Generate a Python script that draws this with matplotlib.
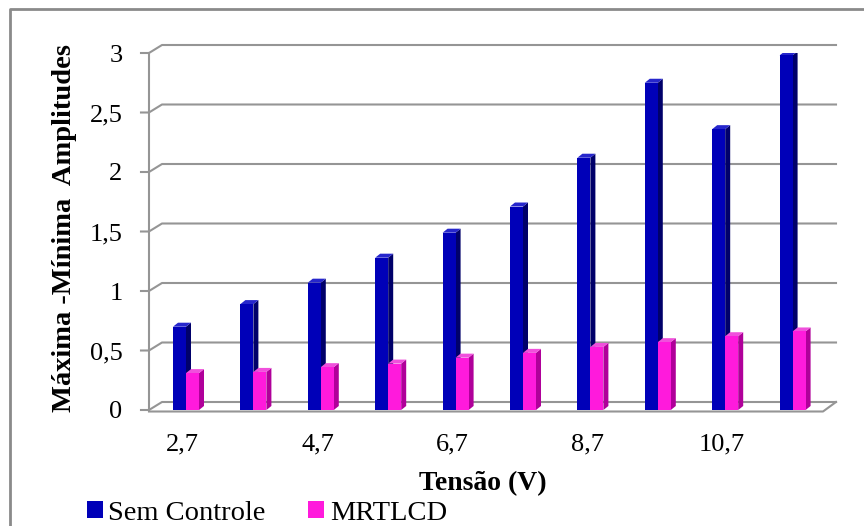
import matplotlib
matplotlib.use("Agg")
import matplotlib.pyplot as plt
from matplotlib.patches import Polygon
from matplotlib.lines import Line2D

# ---- data ----
categories = ["2,7", "3,7", "4,7", "5,7", "6,7", "7,7", "8,7", "9,7", "10,7", "11,7"]
sem_controle = [0.70, 0.89, 1.07, 1.28, 1.49, 1.71, 2.12, 2.75, 2.36, 2.98]
mrtlcd = [0.31, 0.32, 0.36, 0.39, 0.44, 0.48, 0.53, 0.57, 0.62, 0.66]
y_ticks = [0, 0.5, 1, 1.5, 2, 2.5, 3]
y_tick_labels = ["0", "0,5", "1", "1,5", "2", "2,5", "3"]
x_tick_every = 2

# ---- figure / layout (pixel based) ----
W, H = 864, 526
SERIF = ["Liberation Serif", "DejaVu Serif"]
plt.rcParams["font.family"] = SERIF
fig = plt.figure(figsize=(W / 100, H / 100), dpi=100)
fig.patch.set_facecolor("white")

x0, x1, ytop, ybot = 149, 823, 53, 410
ax = fig.add_axes([x0 / W, 1 - ybot / H, (x1 - x0) / W, (ybot - ytop) / H])
n = len(categories)
ax.set_xlim(0, n)
ax.set_ylim(0, 3)
for s in ax.spines.values():
    s.set_visible(False)

px_x = n / (x1 - x0)          # data units per pixel (horizontal)
px_y = 3.0 / (ybot - ytop)    # data units per pixel (vertical)

grid_c = "#959595"
grid_lw = 1.5
wall_dx, wall_dy = 13 * px_x, 8 * px_y

# back wall gridlines with the slanted connector from the front axis
for v in y_ticks:
    ax.add_line(Line2D([-8 * px_x, 0, wall_dx, n + wall_dx],
                       [v, v, v + wall_dy, v + wall_dy],
                       color=grid_c, lw=grid_lw, clip_on=False, zorder=1))
# front vertical axis and floor edge
ax.add_line(Line2D([0, 0], [0, 3], color=grid_c, lw=grid_lw, clip_on=False, zorder=1))
ax.add_line(Line2D([0, n, n + wall_dx], [-1.5 * px_y, -1.5 * px_y, wall_dy],
                   color=grid_c, lw=grid_lw, clip_on=False, zorder=1))

# ---- bars ----
bar_w = 13 * px_x
blue_off = -0.144
mag_off = blue_off + bar_w
centers = [i + 0.5 for i in range(n)]

blue = dict(front="#0000B8", side="#00006A", top="#2626CC")
mag = dict(front="#FF1ADC", side="#B0009A", top="#F050DC")
bdx, bdy = 5 * px_x, 4 * px_y


def add_depth(bars, colors, z):
    for p in bars.patches:
        x, w, h = p.get_x(), p.get_width(), p.get_height()
        side = Polygon([(x + w, 0), (x + w + bdx, bdy), (x + w + bdx, h + bdy), (x + w, h)],
                       closed=True, facecolor=colors["side"], edgecolor="none", zorder=z)
        top = Polygon([(x, h), (x + bdx, h + bdy), (x + w + bdx, h + bdy), (x + w, h)],
                      closed=True, facecolor=colors["top"], edgecolor="none", zorder=z)
        ax.add_patch(side)
        ax.add_patch(top)


b1 = ax.bar([c + blue_off for c in centers], sem_controle, width=bar_w, align="edge",
            color=blue["front"], edgecolor="none", zorder=3, label="Sem Controle")
add_depth(b1, blue, 2.9)
b2 = ax.bar([c + mag_off for c in centers], mrtlcd, width=bar_w, align="edge",
            color=mag["front"], edgecolor="none", zorder=5, label="MRTLCD")
add_depth(b2, mag, 4.9)

# ---- ticks ----
fs = 19
ax.set_yticks(y_ticks, y_tick_labels, fontsize=fs)
ax.set_xticks(centers[::x_tick_every], categories[::x_tick_every], fontsize=fs)
ax.tick_params(axis="y", length=0, pad=19)
ax.tick_params(axis="x", length=0, pad=17)

# ---- axis titles ----
fig.text(65 / W, 1 - 228 / H, "Máxima -Mínima  Amplitudes", rotation=90,
         ha="center", va="center", fontsize=20.5, fontweight="bold")
fig.text(483 / W, 1 - 484 / H, "Tensão (V)", ha="center", va="center",
         fontsize=20, fontweight="bold")

# ---- legend ----
fig.legend(handles=[b1, b2], loc="center left", bbox_to_anchor=(87 / W, 1 - 513 / H),
           ncol=2, frameon=False, prop={"family": SERIF, "size": 20.5},
           handlelength=0.55, handleheight=0.55,
           handletextpad=0.2, columnspacing=1.5, borderpad=0, borderaxespad=0)

# ---- chart border (top and left edges visible) ----
fig.add_artist(Line2D([10 / W, 10 / W, 1.01], [-0.01, 1 - 9 / H, 1 - 9 / H],
                      transform=fig.transFigure, color="#8a8a8a", lw=2))

fig.savefig("out.png", dpi=100, facecolor="white")
